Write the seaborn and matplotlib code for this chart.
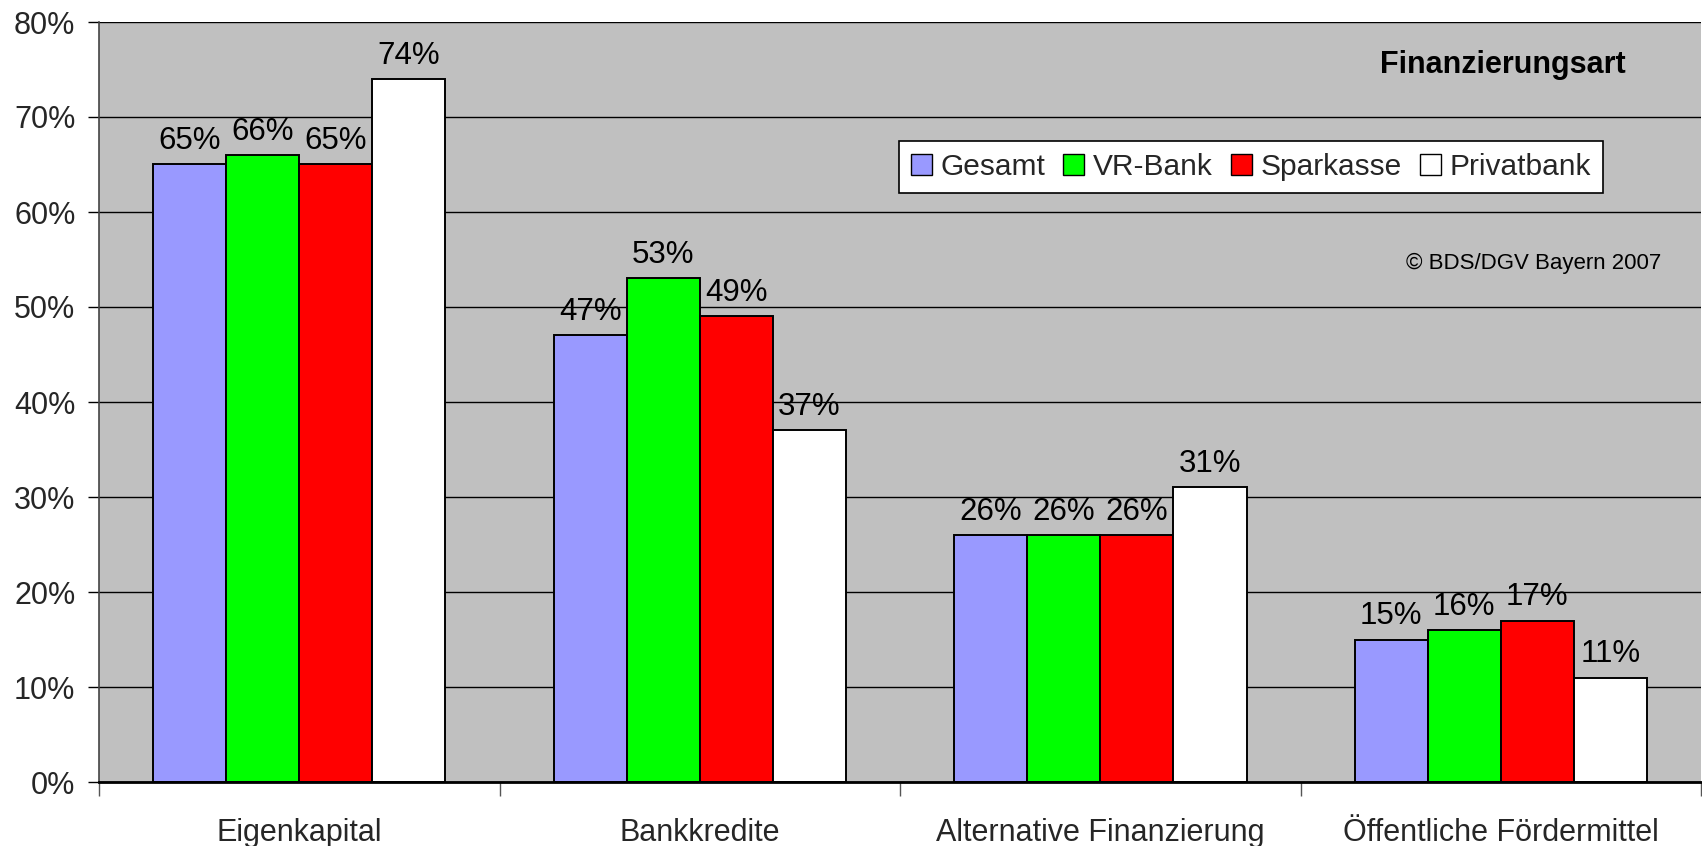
import matplotlib
matplotlib.use("Agg")
import matplotlib.pyplot as plt
import seaborn as sns
import pandas as pd
from matplotlib.ticker import PercentFormatter, FixedLocator
from matplotlib.patches import Patch

categories = ["Eigenkapital", "Bankkredite", "Alternative Finanzierung", "Öffentliche Fördermittel"]
series = ["Gesamt", "VR-Bank", "Sparkasse", "Privatbank"]
gesamt = [65, 47, 26, 15]
vr_bank = [66, 53, 26, 16]
sparkasse = [65, 49, 26, 17]
privatbank = [74, 37, 31, 11]
colors = ["#9999FF", "#00FF00", "#FF0000", "#FFFFFF"]
yticks = [0, 10, 20, 30, 40, 50, 60, 70, 80]

values = [gesamt, vr_bank, sparkasse, privatbank]
rows = []
for s, vals in zip(series, values):
    for c, v in zip(categories, vals):
        rows.append({"Kategorie": c, "Bank": s, "Wert": v})
df = pd.DataFrame(rows)

sns.set_theme(style="white")
plt.rcParams["font.family"] = ["Liberation Sans", "DejaVu Sans"]

fig = plt.figure(figsize=(17.02, 8.46), dpi=100)
ax = fig.add_axes([99 / 1702, 1 - 782 / 846, 1 - 99 / 1702 - 0.0005, (782 - 22) / 846])
ax.set_facecolor("#C0C0C0")

sns.barplot(data=df, x="Kategorie", y="Wert", hue="Bank", order=categories,
            hue_order=series, palette=colors, width=0.73, dodge=True,
            edgecolor="black", linewidth=1.4, saturation=1, legend=False, ax=ax,
            errorbar=None)

for cont in ax.containers:
    ax.bar_label(cont, labels=[f"{int(round(b.get_height()))}%" for b in cont],
                 padding=6, fontsize=22.5, color="black")

ax.set_ylim(0, 80)
ax.set_xlim(-0.5, 3.5)
ax.yaxis.set_major_locator(FixedLocator(yticks))
ax.yaxis.set_major_formatter(PercentFormatter(decimals=0))
ax.grid(axis="y", color="black", linewidth=1.0)
ax.set_axisbelow(True)

ax.set_xlabel("")
ax.set_ylabel("")
ax.tick_params(axis="y", which="major", direction="out", length=8, width=1, color="black",
               labelsize=22, pad=9, left=True)
ax.tick_params(axis="x", which="major", length=0, labelsize=22, pad=26)
ax.xaxis.set_minor_locator(FixedLocator([-0.5, 0.5, 1.5, 2.5, 3.5]))
ax.tick_params(axis="x", which="minor", direction="out", length=10, width=1, color="#555555", bottom=True)

for side in ["top", "right"]:
    ax.spines[side].set_visible(False)
ax.spines["left"].set_color("#444444")
ax.spines["left"].set_linewidth(1.2)
ax.spines["bottom"].set_color("black")
ax.spines["bottom"].set_linewidth(2)

handles = [Patch(facecolor=c, edgecolor="black", linewidth=1) for c in colors]
leg = ax.legend(handles, series, ncol=4, loc="center", bbox_to_anchor=(0.719, 0.809),
                fontsize=21.5, frameon=True, fancybox=False, handlelength=0.7, handleheight=0.7,
                handletextpad=0.3, columnspacing=0.6, borderpad=0.4, borderaxespad=0)
leg.get_frame().set_edgecolor("black")
leg.get_frame().set_facecolor("white")
leg.get_frame().set_linewidth(1.2)
leg.get_frame().set_alpha(1)

ax.text(0.876, 0.943, "Finanzierungsart", transform=ax.transAxes, ha="center", va="center",
        fontsize=22, fontweight="bold", color="black")
ax.text(0.975, 0.682, "© BDS/DGV Bayern 2007", transform=ax.transAxes, ha="right", va="center",
        fontsize=16, color="black")

fig.savefig("out.png", dpi=100, facecolor="white")
